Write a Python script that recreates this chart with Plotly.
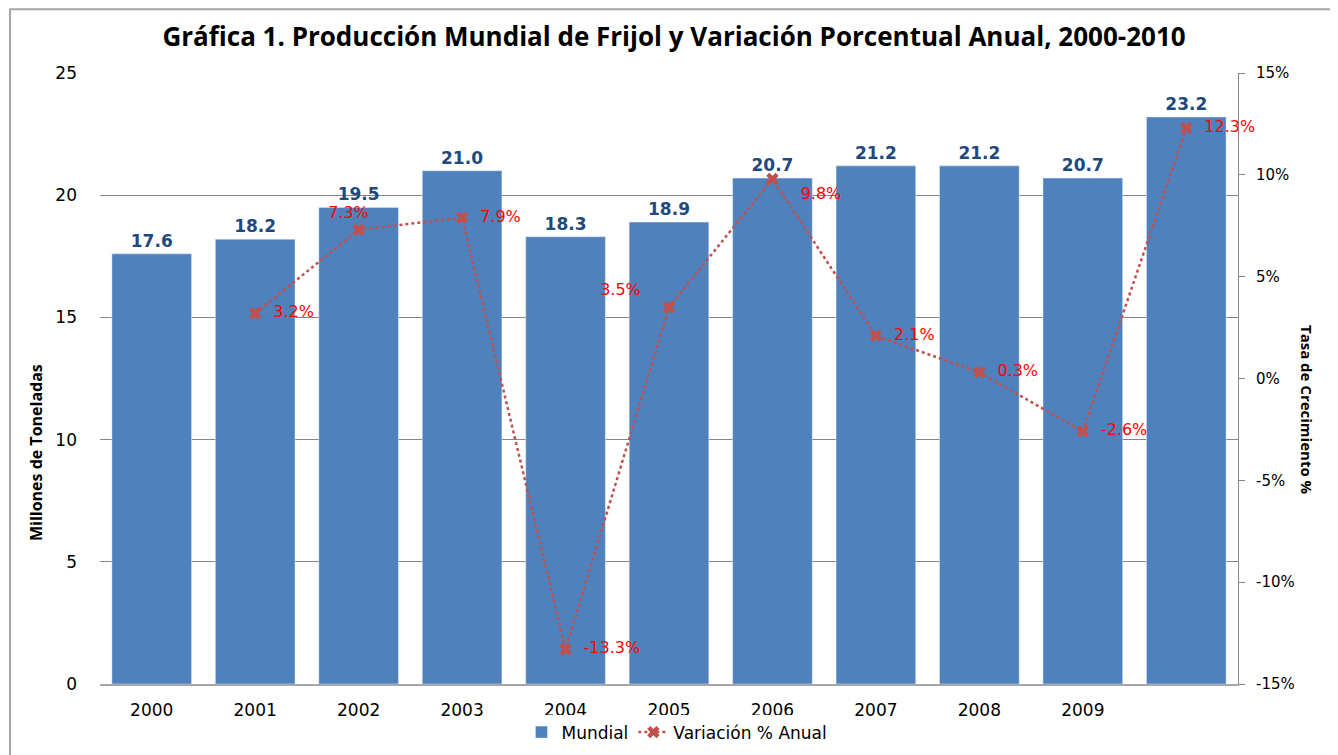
import plotly.graph_objects as go

years = ["2000", "2001", "2002", "2003", "2004", "2005", "2006", "2007", "2008", "2009", "2010"]
tick_labels = ["2000", "2001", "2002", "2003", "2004", "2005", "2006", "2007", "2008", "2009", ""]
mundial = [17.6, 18.2, 19.5, 21.0, 18.3, 18.9, 20.7, 21.2, 21.2, 20.7, 23.2]
var_years = ["2001", "2002", "2003", "2004", "2005", "2006", "2007", "2008", "2009", "2010"]
variacion = [3.2, 7.3, 7.9, -13.3, 3.5, 9.8, 2.1, 0.3, -2.6, 12.3]
var_pos = ["middle right", "top center", "middle right", "middle right", "top left",
           "bottom right", "middle right", "middle right", "middle right", "middle right"]
y2_ticks = [-15, -10, -5, 0, 5, 10, 15]
y2_labels = ["-15%", "-10%", "-5%", "0%", "5%", "10%", "15%"]

xi = list(range(len(years)))
var_x = [years.index(y) for y in var_years]


def fmt_label(v, p, yr):
    s = f"{v:.1f}%"
    if p == "middle right":
        return "  " + s
    if p == "bottom right":
        return "    " + s
    if p == "top center":
        return s + "    "
    return s + "    "


var_text = [fmt_label(v, p, yr) for v, p, yr in zip(variacion, var_pos, var_years)]

fig = go.Figure()
fig.add_trace(go.Bar(
    x=xi, y=mundial, name="Mundial",
    marker=dict(color="#4F81BD"), width=0.77,
    text=[f"{v:.1f}" for v in mundial], textposition="outside",
    textfont=dict(family="DejaVu Sans", size=17, color="#1F497D", weight="bold"),
    cliponaxis=False,
))
fig.add_trace(go.Scatter(
    x=var_x, y=variacion, name="Variación % Anual", yaxis="y2",
    mode="lines+markers+text",
    line=dict(color="#C0504D", width=2.5, dash="dot"),
    marker=dict(symbol="x", size=11, color="#C0504D"),
    text=var_text, textposition=var_pos,
    textfont=dict(family="DejaVu Sans", size=16, color="#FF0000"),
    cliponaxis=False,
))

fig.update_layout(
    width=1338, height=755,
    margin=dict(l=92, r=108, t=65, b=77),
    paper_bgcolor="white", plot_bgcolor="white",
    title=dict(text="<b>Gráfica 1. Producción Mundial de Frijol y Variación Porcentual Anual, 2000-2010</b>",
               x=0.4978, xanchor="center", y=0.9616, yanchor="middle",
               font=dict(family="Open Sans", size=26, color="black")),
    xaxis=dict(tickmode="array", tickvals=xi, ticktext=tick_labels, range=[-0.5, 10.5],
               showline=True, linecolor="#A6A6A6", linewidth=1.5, ticks="", showgrid=False,
               ticklabelstandoff=10, automargin=False,
               tickfont=dict(family="DejaVu Sans", size=17, color="black")),
    yaxis=dict(range=[0, 25], dtick=5, showline=False, ticks="",
               gridcolor="#868686", gridwidth=1, zeroline=False, ticklabelstandoff=22,
               automargin=False,
               tickfont=dict(family="DejaVu Sans", size=17, color="black")),
    yaxis2=dict(range=[-15, 15], tickmode="array", tickvals=y2_ticks, ticktext=y2_labels,
                overlaying="y", side="right",
                showline=True, linecolor="#868686", linewidth=1,
                ticks="outside", ticklen=6, tickcolor="#868686", showgrid=False, zeroline=False,
                ticklabelstandoff=8, automargin=False,
                tickfont=dict(family="DejaVu Sans", size=15, color="black")),
    showlegend=True,
    legend=dict(orientation="h", x=0.507, xanchor="center", xref="paper",
                y=-0.05, yanchor="top", yref="paper",
                font=dict(family="DejaVu Sans", size=17, color="black")),
    annotations=[
        dict(text="<b>Millones de Toneladas</b>", textangle=-90, x=-0.0562, xref="paper", xanchor="center",
             y=0.378, yref="paper", showarrow=False, font=dict(family="Open Sans", size=16, color="black")),
        dict(text="<b>Tasa de Crecimiento %</b>", textangle=90, x=1.0606, xref="paper", xanchor="center",
             y=0.4486, yref="paper", showarrow=False, font=dict(family="Open Sans", size=15, color="black")),
    ],
    shapes=[dict(type="rect", xref="paper", yref="paper", x0=-0.0791, x1=1.094, y0=-0.14, y1=1.1044,
                 line=dict(color="#A6A6A6", width=2))],
)
fig.write_html("out.html")
